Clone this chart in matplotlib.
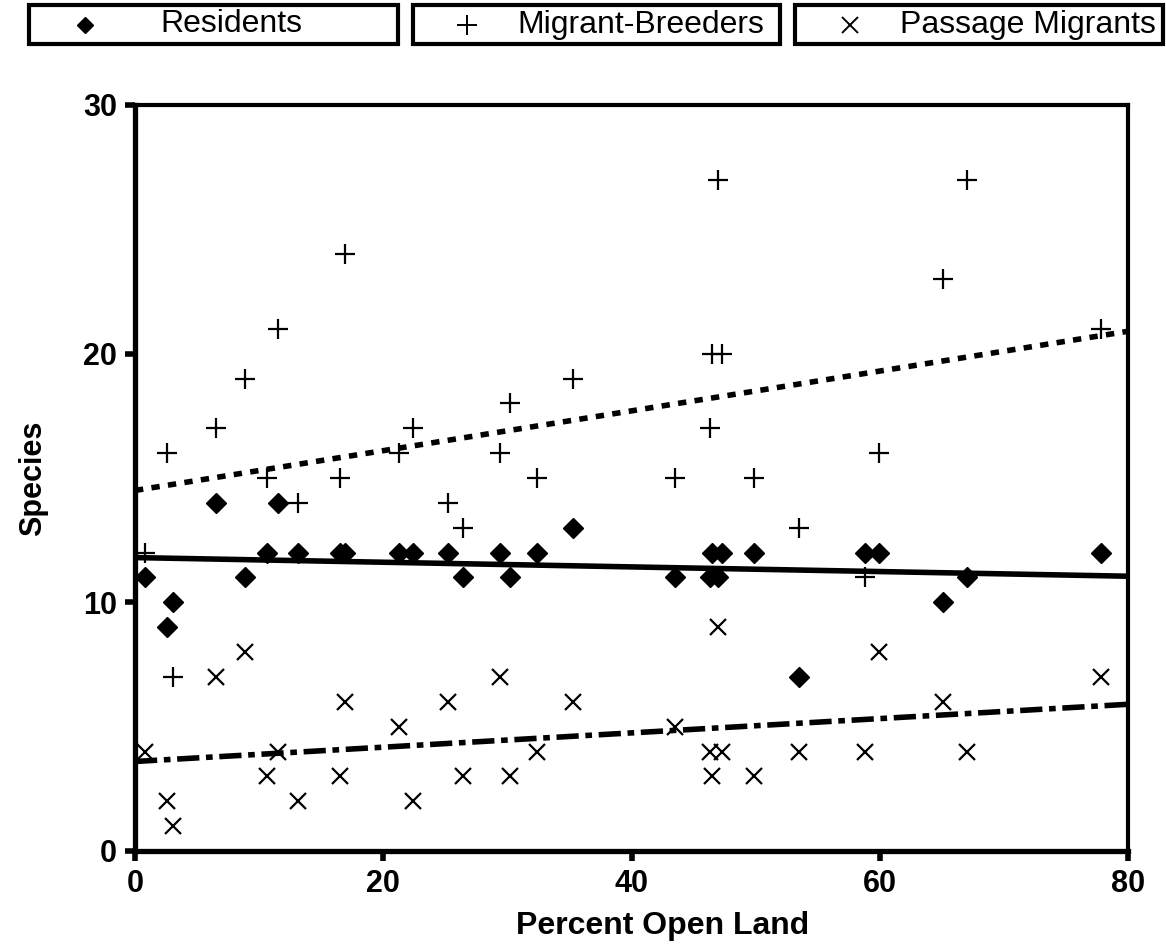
import matplotlib
matplotlib.use("Agg")
import matplotlib.pyplot as plt
from matplotlib.patches import Rectangle
from matplotlib.lines import Line2D

plt.rcParams['font.family'] = ['Liberation Sans', 'DejaVu Sans']

# percent open land at each site
open_land = [0.8, 2.6, 3.1, 6.5, 8.9, 10.6, 11.5, 13.1, 16.5, 16.9,
             21.3, 22.4, 25.2, 26.4, 29.4, 30.2, 32.4, 35.3, 43.5, 46.3,
             46.5, 47.0, 47.3, 49.9, 53.5, 58.8, 59.9, 65.1, 67.0, 77.8]
residents = [11, 9, 10, 14, 11, 12, 14, 12, 12, 12,
             12, 12, 12, 11, 12, 11, 12, 13, 11, 11,
             12, 11, 12, 12, 7, 12, 12, 10, 11, 12]
migrant_breeders = [12, 16, 7, 17, 19, 15, 21, 14, 15, 24,
                    16, 17, 14, 13, 16, 18, 15, 19, 15, 17,
                    20, 27, 20, 15, 13, 11, 16, 23, 27, 21]
passage_migrants = [4, 2, 1, 7, 8, 3, 4, 2, 3, 6,
                    5, 2, 6, 3, 7, 3, 4, 6, 5, 4,
                    3, 9, 4, 3, 4, 4, 8, 6, 4, 7]

# trend line end points (x = 0 and x = 80)
trend_x = [0, 80]
res_trend = [11.8, 11.05]
mig_trend = [14.5, 20.9]
pas_trend = [3.6, 5.9]

legend_labels = ['Residents', 'Migrant-Breeders', 'Passage Migrants']

fig = plt.figure(figsize=(11.66, 9.52), dpi=100)
ax = fig.add_axes([135/1166, 1-851/952, (1128-135)/1166, (851-105)/952])

ax.plot(trend_x, res_trend, color='black', lw=4, solid_capstyle='butt')
ax.plot(trend_x, mig_trend, color='black', lw=4, dashes=(1.5, 1.5))
ax.plot(trend_x, pas_trend, color='black', lw=4, dashes=(4, 1.2, 1.2, 1.2))

ax.plot(open_land, residents, 'D', color='black', ms=10, ls='none', clip_on=False)
ax.plot(open_land, migrant_breeders, '+', color='black', ms=14, mew=1.6, ls='none', clip_on=False)
ax.plot(open_land, passage_migrants, 'x', color='black', ms=11, mew=1.6, ls='none', clip_on=False)

ax.set_xlim(0, 80)
ax.set_ylim(0, 30)
ax.set_xticks([0, 20, 40, 60, 80])
ax.set_yticks([0, 10, 20, 30])
for lbl in ax.get_xticklabels() + ax.get_yticklabels():
    lbl.set_fontweight('bold')
ax.tick_params(direction='out', length=7, width=4, labelsize=22, pad=6)
for side in ['left', 'bottom']:
    ax.spines[side].set_linewidth(3.8)
for side in ['top', 'right']:
    ax.spines[side].set_linewidth(3)

ax.set_xlabel('Percent Open Land', fontsize=23, fontweight='bold')
ax.xaxis.set_label_coords(0.531, -0.08)
ax.set_ylabel('Species', fontsize=22, fontweight='bold', labelpad=25)

# legend boxes at the top
boxes = [(29, 398), (413, 780), (795, 1163)]
marker_x = [85, 467, 850]
text_x = [160, 517, 900]
markers = [('D', 8, 1), ('+', 14, 1.4), ('x', 11, 1.4)]
y_top, y_bot = 5, 44
for (x0, x1), mx, tx, (m, ms, mew), label in zip(boxes, marker_x, text_x, markers, legend_labels):
    fig.add_artist(Rectangle((x0/1166, 1-y_bot/952), (x1-x0)/1166, (y_bot-y_top)/952,
                             transform=fig.transFigure, fill=False, lw=3, ec='black'))
    fig.add_artist(Line2D([mx/1166], [1-(y_top+y_bot)/2/952], marker=m, ms=ms, mew=mew,
                          color='black', ls='none', transform=fig.transFigure))
    fig.text(tx/1166, 1-(y_top+y_bot)/2/952, label, fontsize=23, va='center', ha='left')

fig.savefig('out.png', dpi=100)
